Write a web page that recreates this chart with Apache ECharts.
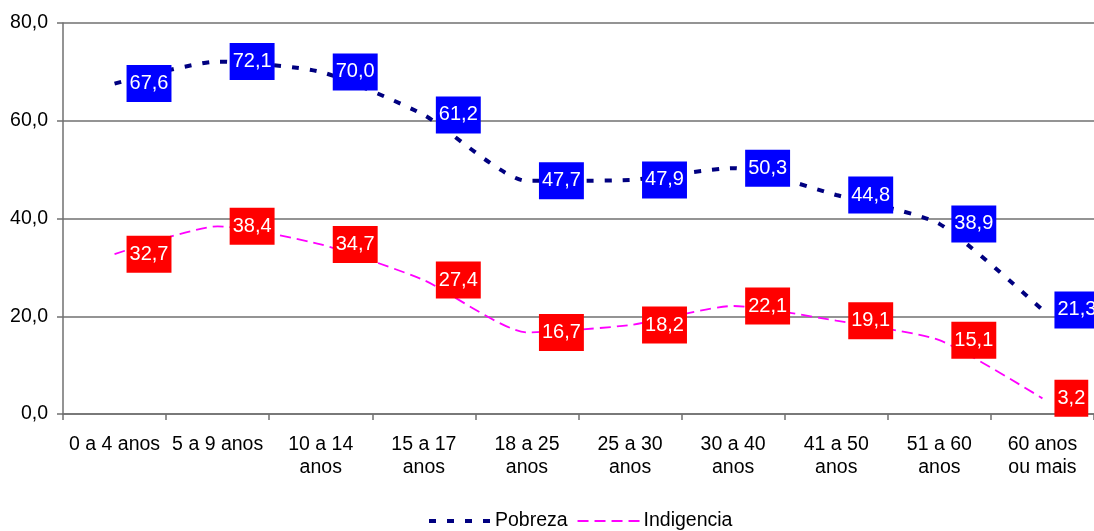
<!DOCTYPE html>
<html>
<head>
<meta charset="utf-8">
<script src="https://cdn.jsdelivr.net/npm/echarts@6/dist/echarts.min.js"></script>
<style>
  html, body { margin: 0; padding: 0; background: #fff; }
  #chart { width: 1094px; height: 531px; }
</style>
</head>
<body>
<div id="chart"></div>
<script>
// Age groups on the category axis
const categories = ['0 a 4 anos', '5 a 9 anos', '10 a 14\nanos', '15 a 17\nanos', '18 a 25\nanos',
  '25 a 30\nanos', '30 a 40\nanos', '41 a 50\nanos', '51 a 60\nanos', '60 anos\nou mais'];
// Percentage of people in poverty, by age group
const pobreza = [67.6, 72.1, 70.0, 61.2, 47.7, 47.9, 50.3, 44.8, 38.9, 21.3];
// Percentage of people in extreme poverty, by age group
const indigencia = [32.7, 38.4, 34.7, 27.4, 16.7, 18.2, 22.1, 19.1, 15.1, 3.2];
// Value-axis range
const yMin = 0, yMax = 80, yStep = 20;

const FONT = '"Liberation Sans", Arial, sans-serif';
const fmt = v => v.toFixed(1).replace('.', ',');

const pobrezaLine = { color: '#000080', width: 4, type: [7, 11] };
const indigenciaLine = { color: '#FF00FF', width: 1.8, type: [11, 6] };

function boxLabel(bg) {
  return {
    show: true,
    position: 'right',
    distance: 12,
    backgroundColor: bg,
    color: '#fff',
    fontFamily: FONT,
    fontSize: 20,
    padding: [9, 3, 8, 3],
    formatter: p => fmt(p.value)
  };
}

const chart = echarts.init(document.getElementById('chart'));
chart.setOption({
  animation: false,
  backgroundColor: '#fff',
  grid: { left: 63, right: 0, top: 23, bottom: 117, containLabel: false },
  legend: {
    bottom: 0,
    left: 427,
    padding: 0,
    itemWidth: 62,
    itemHeight: 14,
    itemGap: 9,
    itemStyle: { opacity: 0 },
    textStyle: { fontFamily: FONT, fontSize: 19.5, color: '#000', padding: [0, 0, 0, -1] },
    data: [
      { name: 'Pobreza', lineStyle: pobrezaLine },
      { name: 'Indigencia', lineStyle: indigenciaLine }
    ]
  },
  xAxis: {
    type: 'category',
    data: categories,
    boundaryGap: true,
    axisLine: { lineStyle: { color: '#707070', width: 1.5 } },
    axisTick: { show: true, length: 6, alignWithLabel: false, lineStyle: { color: '#707070', width: 1.5 } },
    axisLabel: { interval: 0, margin: 19, color: '#000', fontFamily: FONT, fontSize: 19.5, lineHeight: 23 }
  },
  yAxis: {
    type: 'value',
    min: yMin,
    max: yMax,
    interval: yStep,
    axisLine: { show: true, lineStyle: { color: '#707070', width: 1.5 } },
    axisTick: { show: true, length: 6, lineStyle: { color: '#707070', width: 1.5 } },
    splitLine: { show: true, lineStyle: { color: '#707070', width: 1.5 } },
    axisLabel: { margin: 15, color: '#000', fontFamily: FONT, fontSize: 19.5, formatter: v => fmt(v) }
  },
  series: [
    {
      name: 'Pobreza',
      type: 'line',
      data: pobreza,
      smooth: 0.2,
      symbol: 'circle',
      symbolSize: 0,
      color: '#000080',
      lineStyle: pobrezaLine,
      itemStyle: { color: '#000080' },
      label: boxLabel('#0000FF'),
      z: 3
    },
    {
      name: 'Indigencia',
      type: 'line',
      data: indigencia,
      smooth: 0.2,
      symbol: 'circle',
      symbolSize: 0,
      color: '#FF00FF',
      lineStyle: indigenciaLine,
      itemStyle: { color: '#FF00FF' },
      label: boxLabel('#FF0000'),
      z: 2
    }
  ]
});
</script>
</body>
</html>
